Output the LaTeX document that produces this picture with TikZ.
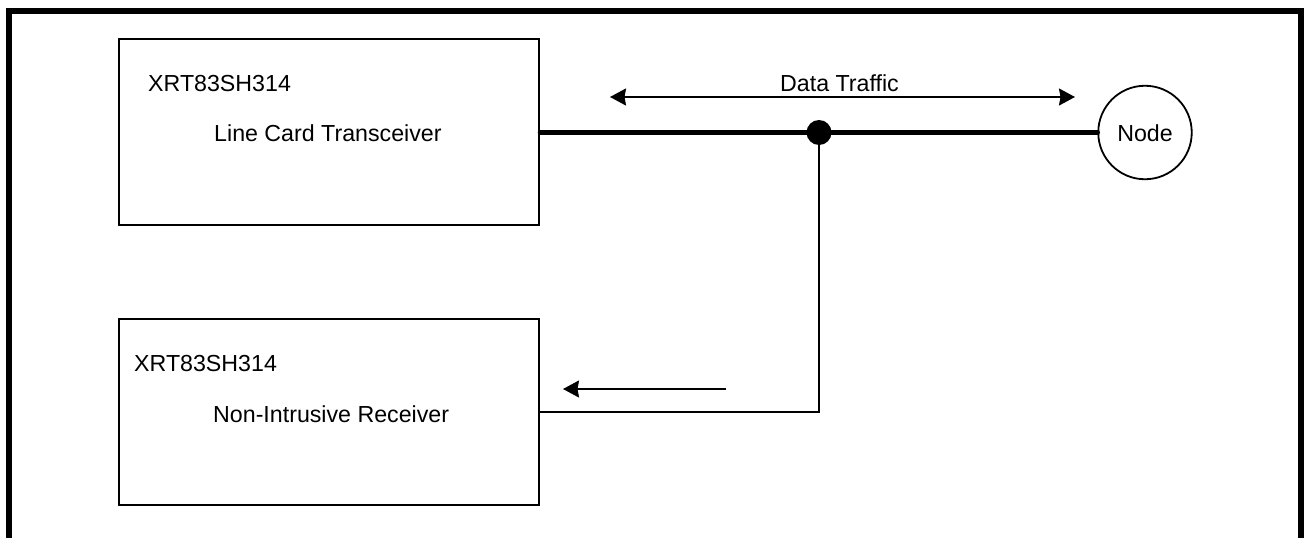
\documentclass[tikz,border=0pt]{standalone}
\usepackage{fontspec}
\setmainfont{Liberation Sans}
\usetikzlibrary{arrows.meta}
\tikzset{
  x=1pt,y=-1pt,
  box/.style={draw,line width=2pt,minimum width=420pt,minimum height=186pt,inner sep=0pt,anchor=north west},
  lbl/.style={font=\fontsize{23.2}{27}\selectfont,inner sep=0pt,anchor=base west},
  thin line/.style={line width=1.8pt},
  bus/.style={line width=5.4pt,line cap=round},
  flow/.style={line width=1.8pt,-{Stealth[length=16pt,width=17pt,inset=1.5pt]}},
  flowboth/.style={line width=1.8pt,{Stealth[length=16pt,width=17pt,inset=1.5pt]}-{Stealth[length=16pt,width=17pt,inset=1.5pt]}},
}
\begin{document}
\begin{tikzpicture}
\useasboundingbox (0,0) rectangle (1304,538);
\draw[line width=6pt,line join=miter] (9,538) -- (9,11) -- (1301,11) -- (1301,538);
\node[box] (card) at (118.4,38.4) {};
\node[box] (recv) at (118.4,318.4) {};
\node[draw,circle,line width=1.8pt,minimum size=93.5pt,inner sep=0pt] (nodec) at (1145,132.5) {};
\node[lbl,anchor=base] at (1145,141) {Node};
\node[circle,fill=black,minimum size=25pt,inner sep=0pt] (dot) at (819,132.5) {};
\coordinate (busL) at (card.east |- dot);
\draw[bus] (busL) -- (dot);
\draw[bus] (dot) -- (nodec.west);
\coordinate (turn) at (819,412);
\draw[thin line] (dot) -- (turn) -- (turn -| recv.east);
\node[lbl] at (148,91) {XRT83SH314};
\node[lbl] at (214,141) {Line Card Transceiver};
\node[lbl] at (134,371) {XRT83SH314};
\node[lbl] at (213,422) {Non-Intrusive Receiver};
\node[lbl,anchor=base] at (839.5,91) {Data Traffic};
\coordinate (dtL) at (610,97);
\coordinate (dtR) at (1075,97);
\draw[flowboth] (dtL) -- (dtR);
\coordinate (rxA) at (726,389);
\coordinate (rxB) at (563,389);
\draw[flow] (rxA) -- (rxB);
\end{tikzpicture}
\end{document}
